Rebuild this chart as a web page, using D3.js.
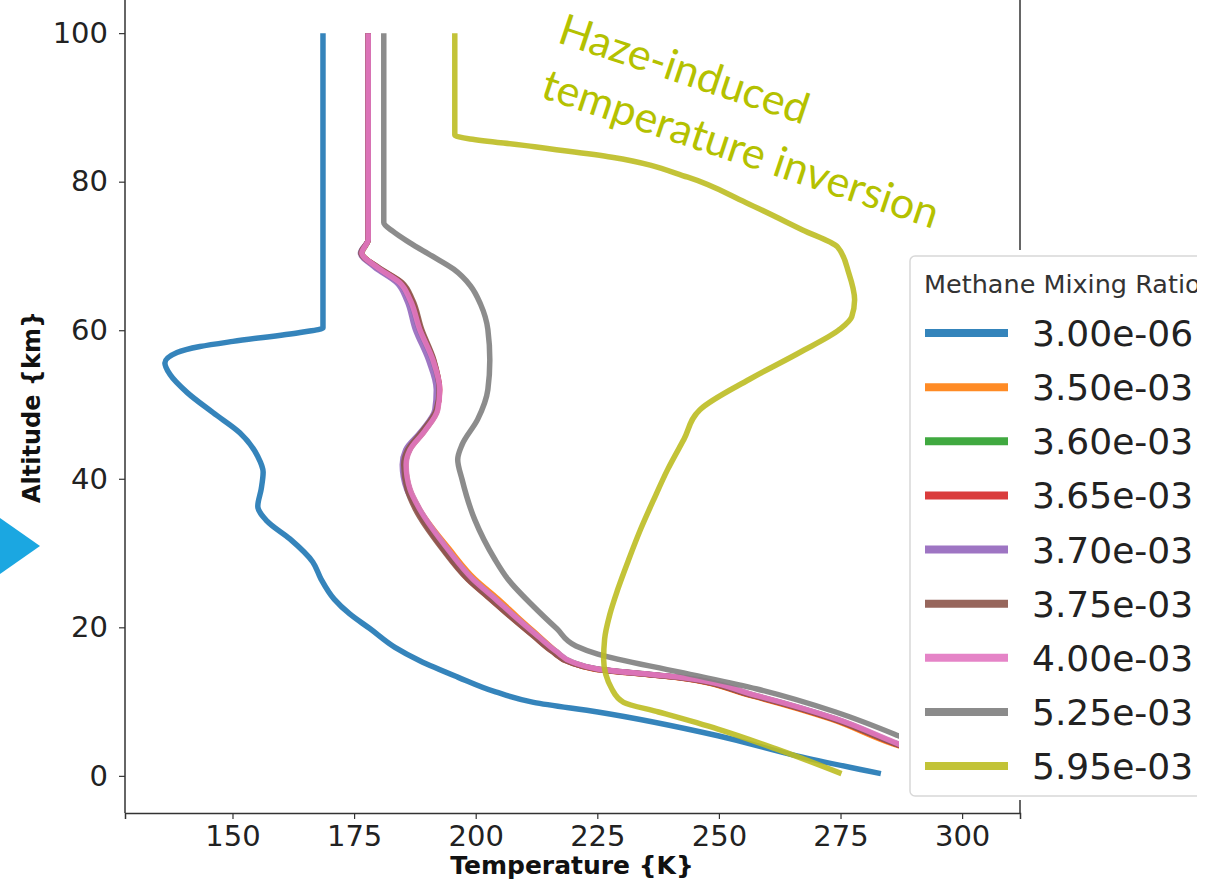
<!DOCTYPE html>
<html>
<head>
<meta charset="utf-8">
<script src="https://cdn.jsdelivr.net/npm/d3@7"></script>
<style>
  html, body { margin: 0; padding: 0; background: #fff; }
  svg { display: block; }
  .tick text { font-family: "DejaVu Sans", sans-serif; fill: #222; }
</style>
</head>
<body>
<svg id="chart" width="1217" height="882"></svg>
<script>
// =========================
// DATI
// =========================
const ratios = ["3.00e-06", "3.50e-03", "3.60e-03", "3.65e-03", "3.70e-03", "3.75e-03", "4.00e-03", "5.25e-03", "5.95e-03"];
const xTicks = [150, 175, 200, 225, 250, 275, 300];
const yTicks = [0, 20, 40, 60, 80, 100];

// 3.00e-06
const alt300e6 = [100, 60.3, 59.7, 58.5, 57.8, 57.0, 55.6, 54.0, 51.6, 48.9, 46.2, 43.0, 40.9, 38.6, 36.3, 34.3, 31.9, 28.8, 26.5, 23.8, 21.8, 19.8, 17.3, 15.5, 13.3, 11.3, 9.9, 8.6, 5.4, 2.7, 0.3];
const temp300e6 = [168.6, 168.6, 163.9, 150.1, 143.3, 138.6, 136.1, 137.2, 140.7, 146.0, 151.5, 155.2, 156.3, 155.9, 155.2, 157.1, 161.8, 166.5, 168.2, 170.9, 174.1, 178.3, 183.4, 188.5, 196.3, 204.1, 211.9, 225.1, 249.8, 266.0, 283.3];

// 3.50e-03 ... 4.00e-03 (quasi sovrapposte)
const altGroup = [100, 72.2, 70.4, 68.5, 66.4, 64.1, 60.1, 56.0, 52.0, 49.3, 46.4, 43.9, 41.9, 38.6, 35.9, 30.5, 26.5, 23.8, 21.5, 18.8, 16.7, 15.3, 14.4, 13.3, 10.8, 7.7, 4.3, 3.0];
const temp350e3 = [177.9, 177.9, 176.6, 179.6, 184.3, 186.4, 188.4, 191.1, 192.5, 192.1, 189.4, 186.4, 185.6, 186.4, 188.4, 194.6, 199.8, 204.6, 208.4, 213.0, 216.6, 219.5, 224.2, 240.5, 256.6, 272.8, 285.8, 292.0];
const temp360e3 = [177.9, 177.9, 176.6, 179.6, 184.3, 186.4, 188.4, 191.1, 192.5, 192.1, 189.4, 186.4, 185.6, 186.4, 188.4, 194.2, 199.3, 204.0, 207.9, 212.7, 216.6, 219.9, 225.0, 241.5, 257.6, 273.8, 286.7, 292.0];
const temp365e3 = [177.9, 177.9, 176.5, 179.8, 184.7, 186.8, 188.7, 191.3, 192.6, 192.0, 189.2, 186.2, 185.4, 186.1, 187.9, 193.4, 198.4, 203.1, 207.1, 212.0, 215.9, 219.3, 224.5, 240.8, 256.9, 273.2, 286.2, 292.0];
const temp370e3 = [177.9, 177.9, 176.3, 179.2, 183.8, 185.8, 187.6, 190.3, 191.9, 191.6, 188.8, 185.6, 184.9, 185.8, 188.0, 193.7, 198.9, 203.6, 207.6, 212.4, 216.3, 219.6, 224.8, 241.2, 257.3, 273.6, 286.5, 292.0];
const temp375e3 = [177.9, 177.9, 176.4, 179.9, 184.9, 187.0, 188.9, 191.4, 192.5, 191.9, 189.0, 186.0, 185.2, 185.9, 187.6, 193.2, 198.3, 203.0, 207.0, 211.9, 215.8, 219.3, 224.6, 240.9, 257.0, 273.3, 286.3, 292.0];
const temp400e3 = [177.9, 177.9, 176.6, 179.7, 184.4, 186.5, 188.5, 191.2, 192.6, 192.2, 189.5, 186.5, 185.7, 186.5, 188.5, 194.3, 199.4, 204.1, 208.0, 212.8, 216.7, 220.0, 225.1, 241.7, 257.8, 274.0, 286.9, 292.0];

// 5.25e-03
const alt525e3 = [100, 74.5, 73.3, 71.8, 70.0, 68.2, 66.0, 63.5, 60.1, 56.0, 52.0, 48.0, 44.6, 42.6, 39.9, 34.5, 29.2, 26.5, 22.8, 19.8, 17.5, 16.4, 14.0, 11.7, 8.6, 5.4, 4.0];
const temp525e3 = [181.1, 181.1, 183.0, 186.4, 191.0, 195.5, 198.9, 201.0, 202.5, 202.9, 202.5, 200.4, 197.2, 196.3, 197.2, 199.8, 203.9, 206.6, 211.9, 216.7, 220.6, 225.1, 241.7, 257.8, 274.0, 286.9, 292.0];

// 5.95e-03
const alt595e3 = [100, 86.3, 84.7, 83.3, 80.6, 77.2, 73.5, 71.2, 67.7, 64.1, 61.8, 60.1, 57.0, 53.4, 49.3, 45.3, 41.3, 37.2, 33.2, 29.2, 25.1, 21.8, 18.4, 15.7, 11.7, 9.9, 8.6, 6.3, 3.6, 0.3];
const temp595e3 = [195.7, 195.7, 212.1, 228.0, 243.6, 255.5, 267.2, 274.4, 276.7, 277.9, 277.3, 274.8, 266.6, 256.3, 246.1, 242.8, 239.5, 236.6, 233.9, 231.5, 229.2, 227.6, 226.5, 226.3, 228.0, 230.4, 237.6, 249.8, 261.9, 275.2];

const altSeries = [alt300e6, altGroup, altGroup, altGroup, altGroup, altGroup, altGroup, alt525e3, alt595e3];
const tempSeries = [temp300e6, temp350e3, temp360e3, temp365e3, temp370e3, temp375e3, temp400e3, temp525e3, temp595e3];

const colors = ["#1f77b4", "#ff7f0e", "#2ca02c", "#d62728", "#9467bd", "#8c564b", "#e377c2", "#7f7f7f", "#bcbd22"];

// =========================
// SCALE E ASSI
// =========================
const svg = d3.select("#chart");
const plotLeft = 125, plotRight = 1020, plotTop = -4, plotBottom = 813;

const x = d3.scaleLinear().domain([127.9, 311.9]).range([plotLeft, plotRight]);
const y = d3.scaleLinear().domain([-5, 105]).range([plotBottom, plotTop]);

svg.append("clipPath").attr("id", "plot-clip")
  .append("rect")
  .attr("x", plotLeft).attr("y", plotTop)
  .attr("width", plotRight - plotLeft).attr("height", plotBottom - plotTop);

const line = d3.line()
  .x(d => x(d[0]))
  .y(d => y(d[1]))
  .curve(d3.curveMonotoneY);

const lines = svg.append("g").attr("clip-path", "url(#plot-clip)");

tempSeries.forEach((temps, i) => {
  const pts = temps.map((t, j) => [t, altSeries[i][j]]);
  lines.append("path")
    .datum(pts)
    .attr("fill", "none")
    .attr("stroke", colors[i])
    .attr("stroke-width", 5.5)
    .attr("stroke-linejoin", "round")
    .attr("stroke-linecap", "butt")
    .attr("opacity", 0.9)
    .attr("d", line);
});

// spines
svg.append("line")
  .attr("x1", plotLeft).attr("x2", plotLeft).attr("y1", plotTop).attr("y2", plotBottom)
  .attr("stroke", "#333").attr("stroke-width", 1.5);
svg.append("line")
  .attr("x1", plotRight).attr("x2", plotRight).attr("y1", plotTop).attr("y2", plotBottom)
  .attr("stroke", "#333").attr("stroke-width", 1.5);

const xAxis = svg.append("g")
  .attr("transform", `translate(0,${plotBottom})`)
  .call(d3.axisBottom(x).tickValues(xTicks).tickSize(6).tickPadding(6));
xAxis.select(".domain").attr("stroke", "#333").attr("stroke-width", 1.5);
xAxis.selectAll(".tick line").attr("stroke", "#333").attr("stroke-width", 1.2);
xAxis.selectAll(".tick text").attr("font-size", 29).attr("dy", "0.71em");

const yAxis = svg.append("g")
  .attr("transform", `translate(${plotLeft},0)`)
  .call(d3.axisLeft(y).tickValues(yTicks).tickSize(6).tickPadding(11));
yAxis.select(".domain").remove();
yAxis.selectAll(".tick line").attr("stroke", "#333").attr("stroke-width", 1.2);
yAxis.selectAll(".tick text").attr("font-size", 29);

svg.append("text")
  .attr("x", 572).attr("y", 874)
  .attr("text-anchor", "middle")
  .attr("font-family", "DejaVu Sans, sans-serif")
  .attr("font-weight", "bold")
  .attr("font-size", 25)
  .attr("fill", "#111")
  .text("Temperature {K}");

svg.append("text")
  .attr("transform", "translate(40,407) rotate(-90)")
  .attr("text-anchor", "middle")
  .attr("font-family", "DejaVu Sans, sans-serif")
  .attr("font-weight", "bold")
  .attr("font-size", 24)
  .attr("fill", "#111")
  .text("Altitude {km}");

// =========================
// LEGENDA
// =========================
svg.append("rect")
  .attr("x", 899).attr("y", 250)
  .attr("width", 1217 - 899).attr("height", 550)
  .attr("fill", "#fff");

svg.append("clipPath").attr("id", "legend-clip")
  .append("rect").attr("x", 0).attr("y", 0).attr("width", 1197).attr("height", 882);

const legend = svg.append("g").attr("clip-path", "url(#legend-clip)");

legend.append("rect")
  .attr("x", 910).attr("y", 256)
  .attr("width", 320).attr("height", 540)
  .attr("rx", 5)
  .attr("fill", "#fff")
  .attr("stroke", "#d8d8d8")
  .attr("stroke-width", 1.5);

legend.append("text")
  .attr("x", 924).attr("y", 293)
  .attr("font-family", "DejaVu Sans, sans-serif")
  .attr("font-size", 25.5)
  .attr("fill", "#333")
  .text("Methane Mixing Ratio");

const rowY = d3.scaleLinear().domain([0, ratios.length - 1]).range([333, 766]);

ratios.forEach((r, i) => {
  const cy = rowY(i);
  legend.append("line")
    .attr("x1", 925).attr("x2", 1008)
    .attr("y1", cy).attr("y2", cy)
    .attr("stroke", colors[i])
    .attr("stroke-width", 8)
    .attr("opacity", 0.9);
  legend.append("text")
    .attr("x", 1032).attr("y", cy + 13)
    .attr("font-family", "DejaVu Sans, sans-serif")
    .attr("font-size", 36)
    .attr("fill", "#222")
    .text(r);
});

// =========================
// ANNOTAZIONE
// =========================
const note = svg.append("g")
  .attr("font-family", "Lato, sans-serif")
  .attr("font-size", 43)
  .attr("fill", "#b4c100");

note.append("text")
  .attr("transform", "translate(556,42) rotate(18.5)")
  .text("Haze-induced");
note.append("text")
  .attr("transform", "translate(539,97) rotate(18.5)")
  .text("temperature inversion");

// triangolo blu a sinistra
svg.append("path")
  .attr("d", "M0,518 L40,546 L0,574 Z")
  .attr("fill", "#1ba7e1");
</script>
</body>
</html>
